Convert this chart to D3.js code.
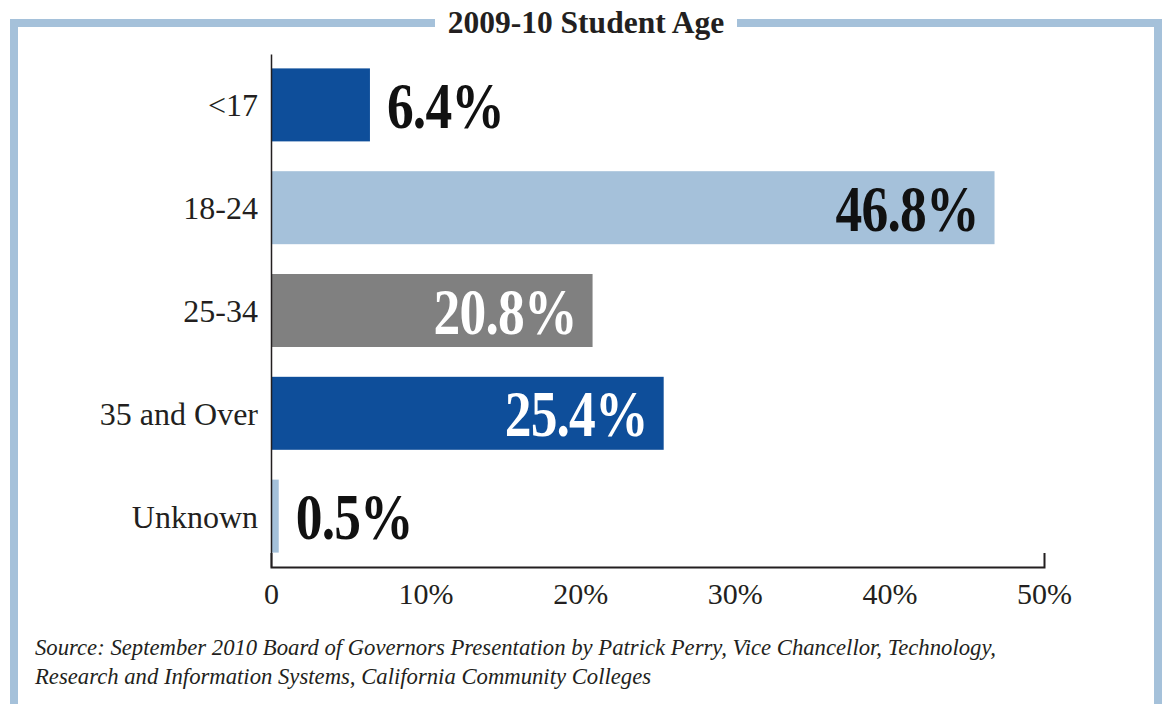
<!DOCTYPE html>
<html><head><meta charset="utf-8">
<script src="https://cdn.jsdelivr.net/npm/d3@7"></script>
<style>
html,body{margin:0;padding:0;background:#fff;}
svg{display:block;font-family:"Liberation Serif","Times New Roman",serif;}
</style></head>
<body>
<svg id="chart" width="1163" height="704"></svg>
<script>
const categories = ["<17", "18-24", "25-34", "35 and Over", "Unknown"];
const values = [6.4, 46.8, 20.8, 25.4, 0.5];
const barColors = ["#0e4e9a", "#a5c1da", "#808080", "#0e4e9a", "#a5c1da"];
const labelInside = [false, true, true, true, false];
const labelColors = ["#111", "#111", "#fff", "#fff", "#111"];
const tickValues = [0, 10, 20, 30, 40, 50];
const tickLabels = ["0", "10%", "20%", "30%", "40%", "50%"];
const title = "2009-10 Student Age";
const sourceLines = [
  "Source: September 2010 Board of Governors Presentation by Patrick Perry, Vice Chancellor, Technology,",
  "Research and Information Systems, California Community Colleges"
];

const svg = d3.select("#chart");
const ink = "#231f20";

// frame
svg.append("rect").attr("x", 14).attr("y", 23).attr("width", 1144).attr("height", 800)
  .attr("fill", "none").attr("stroke", "#a5c1da").attr("stroke-width", 8);

// title
svg.append("rect").attr("x", 435).attr("y", 5).attr("width", 302).attr("height", 36).attr("fill", "#fff");
svg.append("text").attr("x", 586).attr("y", 33).attr("text-anchor", "middle")
  .attr("font-weight", "bold").attr("font-size", 31.5).attr("fill", ink).text(title);

const x = d3.scaleLinear().domain([0, 50]).range([271, 1044]);
const y = d3.scaleBand().domain(categories).range([54, 567]).paddingInner(0.29).paddingOuter(0.14);

// bars
svg.selectAll("rect.bar").data(categories).join("rect").attr("class", "bar")
  .attr("x", x(0)).attr("y", d => y(d))
  .attr("width", (d, i) => x(values[i]) - x(0)).attr("height", y.bandwidth())
  .attr("fill", (d, i) => barColors[i]);

// y axis
const yAxis = svg.append("g").attr("transform", `translate(${x(0)},0)`)
  .call(d3.axisLeft(y).tickSize(0).tickSizeOuter(0).tickPadding(13));
yAxis.select(".domain").attr("stroke", ink).attr("stroke-width", 1.5);
yAxis.selectAll("text").attr("font-size", 32).attr("font-family", "Liberation Serif, serif").attr("fill", ink).attr("dy", "0.36em");

// x axis
const xAxis = svg.append("g").attr("transform", `translate(0,${567})`)
  .call(d3.axisBottom(x).tickValues(tickValues).tickFormat((d, i) => tickLabels[i])
    .tickSizeInner(0).tickSizeOuter(-14).tickPadding(16));
xAxis.select(".domain").attr("stroke", ink).attr("stroke-width", 2);
xAxis.selectAll("text").attr("font-size", 30).attr("font-family", "Liberation Serif, serif").attr("fill", ink);

// value labels
const fs = 66, sx = 0.81;
svg.selectAll("text.val").data(categories).join("text").attr("class", "val")
  .attr("font-weight", "bold").attr("font-size", fs).attr("letter-spacing", -1)
  .attr("fill", (d, i) => labelColors[i])
  .attr("text-anchor", (d, i) => labelInside[i] ? "end" : "start")
  .attr("transform", (d, i) => {
    const xx = labelInside[i] ? x(values[i]) - 16 : x(values[i]) + 17;
    const yy = y(d) + y.bandwidth() / 2 + 23;
    return `translate(${xx},${yy}) scale(${sx},1)`;
  })
  .text((d, i) => values[i].toFixed(1) + "%");

// source
svg.selectAll("text.src").data(sourceLines).join("text").attr("class", "src")
  .attr("x", 35).attr("y", (d, i) => 655 + i * 29)
  .attr("font-style", "italic").attr("font-size", 22.7).attr("fill", ink).text(d => d);
</script>
</body></html>
